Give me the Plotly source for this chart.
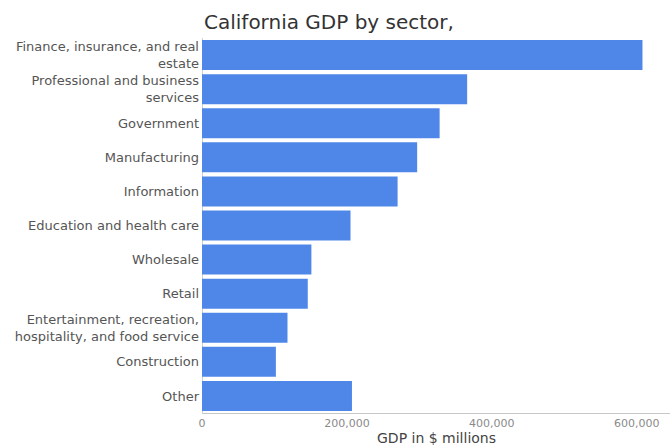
import plotly.graph_objects as go

categories = [
    "Finance, insurance, and real<br>estate",
    "Professional and business<br>services",
    "Government",
    "Manufacturing",
    "Information",
    "Education and health care",
    "Wholesale",
    "Retail",
    "Entertainment, recreation,<br>hospitality, and food service",
    "Construction",
    "Other",
]
values = [608000, 366000, 328000, 297000, 270000, 205000, 151000, 146000, 118000, 102000, 207000]
tick_vals = [0, 200000, 400000, 600000]
tick_text = ["0", "200,000", "400,000", "600,000"]

fig = go.Figure(
    go.Bar(
        y=categories,
        x=values,
        orientation="h",
        marker=dict(color="#4f87e8", line=dict(width=0)),
    )
)

fig.update_layout(
    width=672,
    height=448,
    margin=dict(l=202, r=2, t=38, b=35),
    paper_bgcolor="white",
    plot_bgcolor="white",
    bargap=0.12,
    showlegend=False,
    font=dict(family="DejaVu Sans, sans-serif"),
    title=dict(
        text="California GDP by sector,",
        x=204 / 672,
        xanchor="left",
        y=1 - 22 / 448,
        yanchor="middle",
        font=dict(size=20, color="#333333"),
    ),
    xaxis=dict(
        range=[0, 646000],
        tickvals=tick_vals,
        ticktext=tick_text,
        showgrid=False,
        showline=True,
        linecolor="#c8c8c8",
        linewidth=1,
        zeroline=True,
        zerolinecolor="#d0d0d0",
        zerolinewidth=1,
        ticks="",
        tickfont=dict(size=11, color="#8a8a8a"),
        ticklabelstandoff=0,
    ),
    yaxis=dict(
        categoryorder="array",
        categoryarray=categories[::-1],
        autorange=True,
        showgrid=False,
        showline=False,
        ticks="",
        tickfont=dict(size=13, color="#555555"),
        ticklabelstandoff=2,
    ),
    annotations=[
        dict(
            text="GDP in $ millions",
            xref="paper",
            yref="paper",
            x=0.5,
            y=0,
            xanchor="center",
            yanchor="top",
            yshift=-15,
            showarrow=False,
            font=dict(size=14, color="#444444"),
        )
    ],
)

fig.write_html("out.html")
